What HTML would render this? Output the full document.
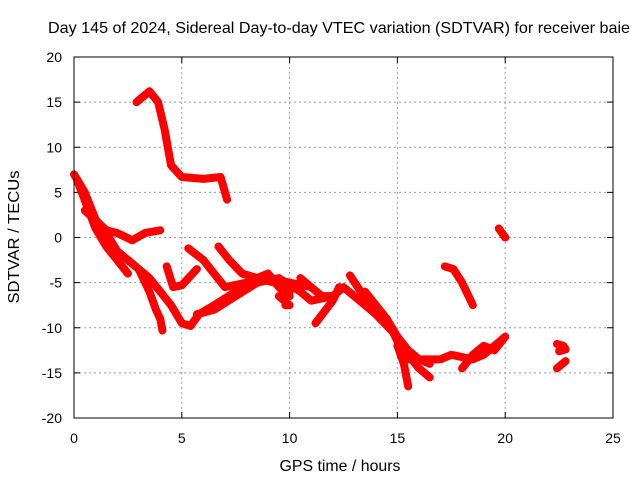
<!DOCTYPE html>
<html><head><meta charset="utf-8"><style>
body{margin:0;background:#fff;}
svg{display:block;font-family:"Liberation Sans",sans-serif;}
</style></head><body>
<svg id="chart" width="640" height="480" xmlns="http://www.w3.org/2000/svg">
<rect width="640" height="480" fill="#fff"/>
<text x="339" y="33" font-size="16" text-anchor="middle" textLength="582" lengthAdjust="spacingAndGlyphs">Day 145 of 2024, Sidereal Day-to-day VTEC variation (SDTVAR) for receiver baie</text>
<g id="grid"></g>
<g id="ticks" font-size="14"></g>
<g id="series"></g>
<rect x="74" y="57" width="539" height="361" fill="none" stroke="#000" stroke-width="1"/>
<text x="340" y="471" font-size="16" text-anchor="middle" textLength="121" lengthAdjust="spacingAndGlyphs">GPS time / hours</text>
<text x="19" y="237" font-size="16" text-anchor="middle" textLength="133" lengthAdjust="spacingAndGlyphs" transform="rotate(-90 19 237)">SDTVAR / TECUs</text>
</svg>
<script>
const xTicks=[0,5,10,15,20,25];
const yTicks=[20,15,10,5,0,-5,-10,-15,-20];
const t1=[[2.9,15],[3.5,16.2],[3.9,15],[4.2,12],[4.5,8],[5,6.7],[6,6.5],[6.8,6.7],[7.1,4.2]];
const t2=[[0,7],[0.5,5],[1,2],[1.5,0.5],[2,-1.5],[2.5,-2.5],[3,-3.5],[3.5,-4.5],[4,-6],[4.5,-7.5],[5,-9.5],[5.4,-9.8],[5.8,-8.5],[6.5,-7.5],[7.5,-6],[8.5,-4.5],[9.3,-5],[10,-6]];
const t3=[[0.5,3],[1.5,0.8],[2,0.5],[2.7,-0.3],[3.3,0.5],[4,0.8]];
const t4=[[0.2,6],[0.6,3.5],[1,1],[1.5,-1],[2,-2.5],[2.5,-4]];
const t5=[[2.5,-2.5],[3,-3.5],[3.5,-6],[3.8,-8],[4,-9],[4.1,-10.3]];
const t6=[[4.3,-3.2],[4.6,-5.5],[5,-5.3],[5.7,-3.5]];
const t7=[[5.3,-1.2],[6,-2.5],[6.5,-4],[7,-5.5],[8,-5],[9,-4.5],[10,-5],[11,-5.5]];
const t8=[[6.7,-1],[7.2,-2.5],[7.8,-4],[8.5,-4.5],[9,-4],[9.5,-5.5],[10,-6.5]];
const t9=[[5.7,-8.5],[6.5,-8],[7.5,-6.5],[8.5,-5],[9.5,-4.5],[10.5,-6],[11,-7],[12,-6.5],[12.5,-5.5],[13,-6.5],[14,-8.5],[15,-11],[15.5,-12.5],[16,-13.5],[17,-13.5],[17.5,-13],[18.5,-13.5],[19,-13],[20,-11]];
const t10=[[10.5,-4.5],[11,-5.5],[11.5,-6.5],[12,-6.5]];
const t11=[[12.8,-4.2],[13.3,-6],[14,-8],[14.5,-9],[15,-11],[15.5,-13],[16,-14.5],[16.5,-15.5]];
const t12=[[11.2,-9.5],[12,-7],[12.3,-5.5]];
const t13=[[15,-12],[15.3,-14],[15.5,-16.5]];
const t14=[[17.2,-3.2],[17.6,-3.5],[18,-5],[18.5,-7.5]];
const t15=[[19.7,1],[20,0]];
const t16=[[22.4,-11.8],[22.7,-12],[22.8,-12.4],[22.5,-12.6]];
const t17=[[22.4,-14.5],[22.8,-13.7]];
const t18=[[13.5,-6],[14.5,-9],[15,-11.5],[15.5,-13.5],[16,-13.5],[16.5,-14]];
const t19=[[9.5,-6.5],[10,-7.5],[9.8,-7.5]];
const t20=[[18,-14.5],[18.5,-13],[19,-12],[19.5,-12.5],[20,-11]];
const tracks=[t1,t2,t3,t4,t5,t6,t7,t8,t9,t10,t11,t12,t13,t14,t15,t16,t17,t18,t19,t20];
const NS="http://www.w3.org/2000/svg";
function X(h){return 74+h*539/25;}
function Y(v){return 57+(20-v)*361/40;}
const grid=document.getElementById('grid'),ticks=document.getElementById('ticks'),ser=document.getElementById('series');
function mk(tag,attrs,parent){const e=document.createElementNS(NS,tag);for(const k in attrs)e.setAttribute(k,attrs[k]);parent.appendChild(e);return e;}
xTicks.forEach(t=>{
  if(t>0&&t<25){const g=mk('line',{x1:X(t),x2:X(t),y1:57,y2:418,stroke:'#999','stroke-dasharray':'2,3'},grid);
  
  }
  const l=mk('text',{x:X(t),y:443,'text-anchor':'middle'},ticks);l.textContent=t;
  
  
  mk('line',{x1:X(t),x2:X(t),y1:418,y2:412,stroke:'#000'},ticks);
  mk('line',{x1:X(t),x2:X(t),y1:57,y2:63,stroke:'#000'},ticks);
});
yTicks.forEach(t=>{
  if(t>-20&&t<20){const g=mk('line',{x1:74,x2:613,y1:Y(t),y2:Y(t),stroke:'#999','stroke-dasharray':'2,3'},grid);
  
  }
  const l=mk('text',{x:62,y:Y(t)+5,'text-anchor':'end'},ticks);l.textContent=t;
  
  
  mk('line',{x1:74,x2:80,y1:Y(t),y2:Y(t),stroke:'#000'},ticks);
  mk('line',{x1:607,x2:613,y1:Y(t),y2:Y(t),stroke:'#000'},ticks);
});
tracks.forEach(tr=>{
  const p=mk('polyline',{points:tr.map(d=>X(d[0])+','+Y(d[1])).join(' '),fill:'none',stroke:'#f00','stroke-width':8,'stroke-linejoin':'round','stroke-linecap':'round'},ser);
  
  
});
</script>
</body></html>
